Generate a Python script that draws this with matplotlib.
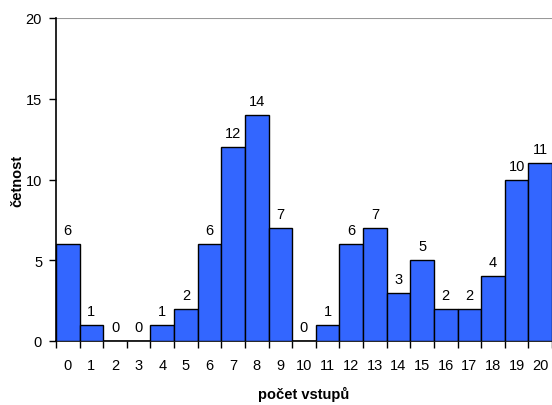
import matplotlib.pyplot as plt
import numpy as np

# počet vstupů a jejich četnosti
vstupy = list(range(21))
cetnost = [6, 1, 0, 0, 1, 2, 6, 12, 14, 7, 0, 1, 6, 7, 3, 5, 2, 2, 4, 10, 11]

plt.rcParams['font.family'] = ['Liberation Sans', 'DejaVu Sans']

fig = plt.figure(figsize=(5.52, 4.06), dpi=100)
ax = fig.add_axes([56 / 552, 1 - 342 / 406, 1 - 56 / 552, (342 - 19) / 406])

x = np.array(vstupy)
ax.bar(x, cetnost, width=1.0, color='#3366FF', edgecolor='black', linewidth=1.0, zorder=3)

for xi, v in zip(x, cetnost):
    ax.annotate(str(v), (xi, v), xytext=(0, 5), textcoords='offset points',
                ha='center', va='bottom', fontsize=10.5)

ax.set_xlim(-0.5, 20.5)
ax.set_ylim(0, 20)
ax.set_yticks([0, 5, 10, 15, 20])
ax.set_xticks(x)
ax.set_xticklabels([str(v) for v in vstupy], fontsize=10.5)
ax.tick_params(axis='x', length=0, pad=12)
ax.set_xticks(np.arange(-0.5, 21, 1), minor=True)
ax.tick_params(axis='x', which='minor', length=5, width=1, direction='out')
ax.tick_params(axis='y', length=5, width=1, direction='out', labelsize=10.5, pad=5)

ax.axhline(20, color='#999999', linewidth=1.5, zorder=1)
for side in ['top', 'right']:
    ax.spines[side].set_visible(False)
for side in ['left', 'bottom']:
    ax.spines[side].set_linewidth(1.2)

ax.set_xlabel('počet vstupů', fontsize=10.5, fontweight='bold', labelpad=10)
ax.set_ylabel('četnost', fontsize=10.5, fontweight='bold')
ax.yaxis.set_label_coords(-0.064, 0.5)

fig.savefig('out.png', dpi=100)
